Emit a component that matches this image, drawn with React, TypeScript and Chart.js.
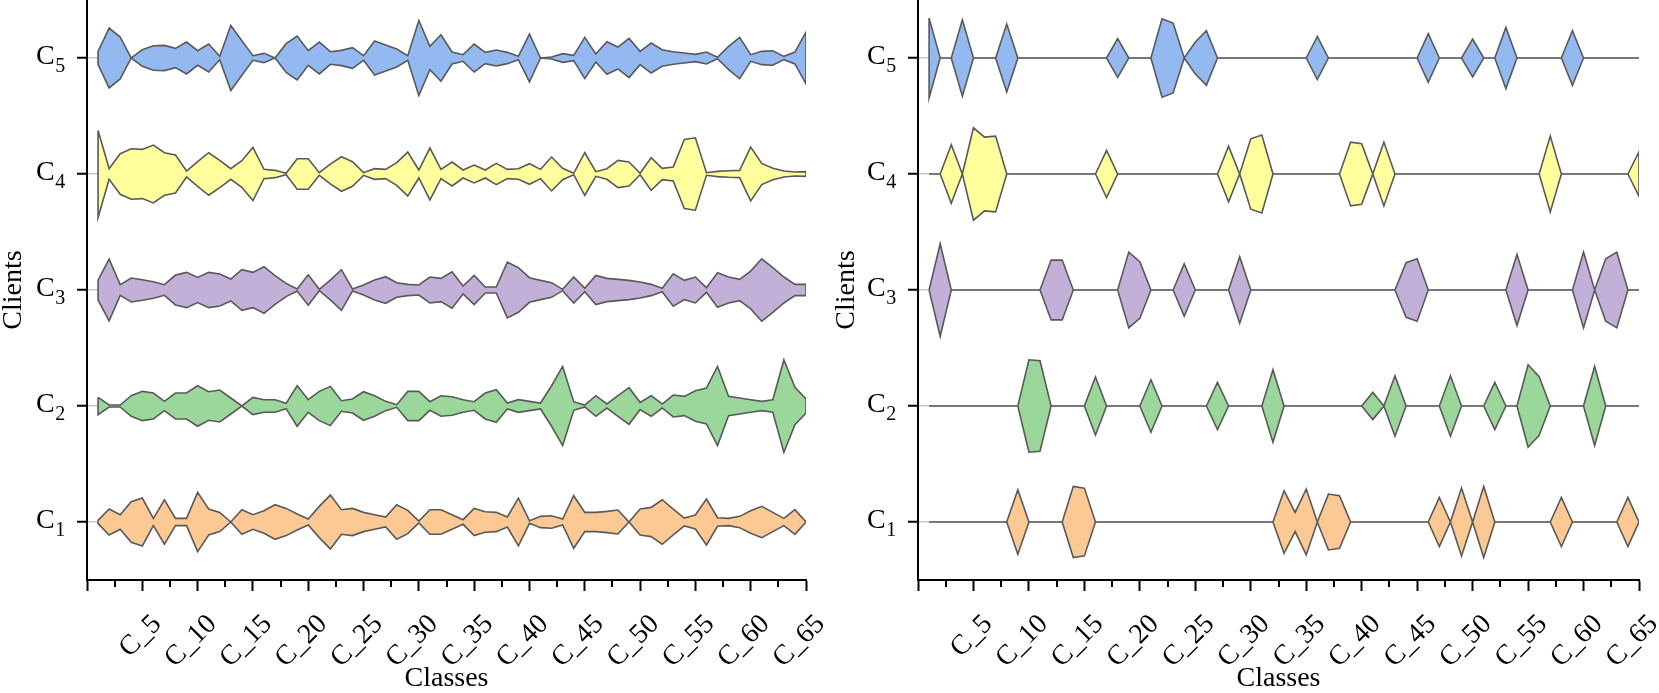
import React, { useEffect, useRef } from "react";
import { Chart, registerables } from "chart.js";

Chart.register(...registerables);

// ---------------- data ----------------
const CLASSES = [
  1, 2, 3, 4, 5, 6, 7, 8, 9, 10, 11, 12, 13, 14, 15, 16, 17, 18, 19, 20,
  21, 22, 23, 24, 25, 26, 27, 28, 29, 30, 31, 32, 33, 34, 35, 36, 37, 38, 39, 40,
  41, 42, 43, 44, 45, 46, 47, 48, 49, 50, 51, 52, 53, 54, 55, 56, 57, 58, 59, 60,
  61, 62, 63, 64, 65,
];

const CLIENT_POSITIONS = [1, 2, 3, 4, 5];
const CLIENT_SUBSCRIPTS = ["1", "2", "3", "4", "5"];

const X_TICK_VALUES = [
  0, 2.5, 5, 7.5, 10, 12.5, 15, 17.5, 20, 22.5, 25, 27.5, 30, 32.5, 35, 37.5,
  40, 42.5, 45, 47.5, 50, 52.5, 55, 57.5, 60, 62.5, 65,
];
const MAJOR_TICK_VALUES = [5, 10, 15, 20, 25, 30, 35, 40, 45, 50, 55, 60, 65];
const MAJOR_TICK_LABELS = [
  "C_5", "C_10", "C_15", "C_20", "C_25", "C_30", "C_35", "C_40", "C_45",
  "C_50", "C_55", "C_60", "C_65",
];

// per-class densities (arbitrary units), left panel
const LEFT_C1 = [5, 39, 22, 61, 72, 11, 67, 11, 11, 89, 39, 29, 0, 37, 22, 34, 52, 41, 24, 9, 47, 81, 37, 41, 29, 22, 15, 52, 35, 3, 37, 37, 22, 7, 41, 31, 29, 15, 72, 4, 17, 19, 9, 79, 29, 29, 32, 36, 0, 39, 44, 67, 39, 12, 21, 69, 13, 11, 17, 34, 47, 29, 11, 37, 0];
const LEFT_C2 = [26, 3, 3, 31, 44, 39, 14, 39, 39, 61, 43, 48, 24, 0, 26, 19, 19, 8, 61, 19, 44, 59, 16, 21, 43, 31, 14, 4, 44, 44, 13, 31, 28, 19, 13, 39, 49, 9, 19, 14, 9, 61, 119, 13, 3, 31, 6, 31, 55, 11, 31, 6, 33, 29, 46, 54, 119, 29, 24, 19, 14, 19, 139, 56, 21];
const LEFT_C3 = [30, 93, 16, 36, 31, 25, 16, 45, 53, 38, 53, 48, 33, 61, 53, 70, 43, 20, 3, 46, 2, 30, 61, 3, 15, 30, 40, 22, 17, 15, 39, 35, 55, 12, 44, 9, 9, 84, 67, 37, 29, 22, 2, 39, 5, 44, 35, 32, 29, 24, 17, 5, 49, 29, 39, 7, 52, 39, 32, 57, 94, 67, 39, 17, 17];
const LEFT_C4 = [131, 16, 61, 76, 74, 87, 64, 57, 9, 37, 64, 41, 16, 40, 80, 14, 11, 2, 46, 46, 4, 30, 52, 37, 4, 16, 14, 34, 66, 12, 78, 14, 36, 12, 27, 12, 32, 14, 16, 31, 14, 51, 17, 2, 64, 7, 16, 41, 36, 2, 49, 17, 21, 104, 109, 4, 8, 10, 11, 81, 32, 17, 9, 6, 7];
const LEFT_C5 = [20, 90, 63, 0, 25, 37, 38, 29, 48, 22, 42, 5, 98, 52, 7, 14, 0, 43, 66, 22, 48, 19, 23, 31, 7, 51, 39, 27, 7, 113, 35, 70, 18, 10, 42, 17, 24, 17, 5, 72, 0, 3, 13, 8, 62, 12, 49, 33, 59, 20, 45, 25, 19, 15, 11, 18, 2, 35, 62, 10, 20, 22, 5, 18, 78];

// per-class densities (arbitrary units), right panel
const RIGHT_C1 = [0, 0, 0, 0, 0, 0, 0, 0, 97, 0, 0, 0, 0, 107, 102, 0, 0, 0, 0, 0, 0, 0, 0, 0, 0, 0, 0, 0, 0, 0, 0, 0, 94, 29, 99, 0, 84, 79, 0, 0, 0, 0, 0, 0, 0, 0, 74, 0, 102, 0, 107, 0, 0, 0, 0, 0, 0, 74, 0, 0, 0, 0, 0, 74, 0];
const RIGHT_C2 = [0, 0, 0, 0, 0, 0, 0, 0, 0, 139, 136, 0, 0, 0, 0, 87, 0, 0, 0, 0, 79, 0, 0, 0, 0, 0, 71, 0, 0, 0, 0, 109, 0, 0, 0, 0, 0, 0, 0, 0, 41, 0, 91, 0, 0, 0, 0, 91, 0, 0, 0, 71, 0, 0, 124, 88, 0, 0, 0, 0, 119, 0, 0, 0, 0];
const RIGHT_C3 = [0, 139, 0, 0, 0, 0, 0, 0, 0, 0, 0, 90, 90, 0, 0, 0, 0, 0, 114, 85, 0, 0, 0, 79, 0, 0, 0, 0, 100, 0, 0, 0, 0, 0, 0, 0, 0, 0, 0, 0, 0, 0, 0, 82, 94, 0, 0, 0, 0, 0, 0, 0, 0, 107, 0, 0, 0, 0, 0, 114, 0, 94, 114, 0, 0];
const RIGHT_C4 = [0, 0, 88, 0, 139, 111, 114, 0, 0, 0, 0, 0, 0, 0, 0, 0, 71, 0, 0, 0, 0, 0, 0, 0, 0, 0, 0, 84, 0, 106, 117, 0, 0, 0, 0, 0, 0, 0, 96, 91, 0, 96, 0, 0, 0, 0, 0, 0, 0, 0, 0, 0, 0, 0, 0, 0, 114, 0, 0, 0, 0, 0, 0, 0, 67];
const RIGHT_C5 = [120, 0, 0, 115, 0, 0, 0, 102, 0, 0, 0, 0, 0, 0, 0, 0, 0, 58, 0, 0, 0, 118, 105, 0, 48, 82, 0, 0, 0, 0, 0, 0, 0, 0, 0, 65, 0, 0, 0, 0, 0, 0, 0, 0, 0, 73, 0, 0, 0, 57, 0, 0, 92, 0, 0, 0, 0, 0, 82, 0, 0, 0, 0, 0, 0];

const LEFT_SERIES = [LEFT_C1, LEFT_C2, LEFT_C3, LEFT_C4, LEFT_C5];
const RIGHT_SERIES = [RIGHT_C1, RIGHT_C2, RIGHT_C3, RIGHT_C4, RIGHT_C5];

// ---------------- styling ----------------
const ROW_COLORS = ["#FCC894", "#9BD69B", "#C2B0D8", "#FFFF9E", "#94B9F0"];
const OUTLINE = "#595959";
const DENSITY_SCALE = 1 / 349; // density -> half width in row units
const FONT = '"Liberation Serif", "Times New Roman", serif';
const H = 693;

function shapePoints(values: number[], row: number) {
  const upper = values.map((v, i) => ({ x: CLASSES[i], y: row + v * DENSITY_SCALE }));
  const lower = values.map((v, i) => ({ x: CLASSES[i], y: row - v * DENSITY_SCALE })).reverse();
  return [...upper, ...lower, upper[0]];
}

const decorations = {
  id: "decorations",
  afterDraw(chart: any) {
    const ctx = chart.ctx;
    const xs = chart.scales.x;
    const ys = chart.scales.y;
    const area = chart.chartArea;
    ctx.save();
    // minor ticks
    ctx.strokeStyle = "#000";
    ctx.lineWidth = 2;
    X_TICK_VALUES.forEach((v) => {
      if (MAJOR_TICK_VALUES.indexOf(v) >= 0 || v === 0) return;
      const px = Math.round(xs.getPixelForValue(v));
      ctx.beginPath();
      ctx.moveTo(px, area.bottom);
      ctx.lineTo(px, area.bottom + 7);
      ctx.stroke();
    });
    // rotated x tick labels
    ctx.fillStyle = "#000";
    ctx.font = `28px ${FONT}`;
    ctx.textAlign = "right";
    ctx.textBaseline = "alphabetic";
    MAJOR_TICK_VALUES.forEach((v, k) => {
      const px = xs.getPixelForValue(v);
      ctx.save();
      ctx.translate(px + 20, area.bottom + 45);
      ctx.rotate(-Math.PI / 4);
      ctx.fillText(MAJOR_TICK_LABELS[k], 0, 0);
      ctx.restore();
    });
    // y tick labels with subscripts
    ctx.textAlign = "left";
    CLIENT_POSITIONS.forEach((r, i) => {
      const py = ys.getPixelForValue(r);
      const x0 = area.left - 51;
      ctx.font = `28px ${FONT}`;
      ctx.fillText("C", x0, py + 6);
      const w = ctx.measureText("C").width;
      ctx.font = `20px ${FONT}`;
      ctx.fillText(CLIENT_SUBSCRIPTS[i], x0 + w + 0.5, py + 14);
    });
    ctx.restore();
  },
};

function makeConfig(series: number[][], padLeft: number, padRight: number, yWidth: number) {
  const datasets = series.map((vals, i) => ({
    data: shapePoints(vals, CLIENT_POSITIONS[i]),
    showLine: true,
    fill: "shape",
    backgroundColor: ROW_COLORS[i],
    borderColor: OUTLINE,
    borderWidth: 1.6,
    pointRadius: 0,
    pointHoverRadius: 0,
    tension: 0,
    borderJoinStyle: "miter",
  }));
  return {
    type: "scatter",
    data: { datasets },
    plugins: [decorations],
    options: {
      animation: false,
      responsive: false,
      events: [],
      layout: { padding: { left: padLeft, right: padRight, top: 0, bottom: 0 } },
      plugins: { legend: { display: false }, tooltip: { enabled: false } },
      scales: {
        x: {
          type: "linear",
          min: 0,
          max: 65,
          afterBuildTicks: (scale: any) => {
            scale.ticks = X_TICK_VALUES.map((v) => ({ value: v }));
          },
          afterFit: (scale: any) => {
            scale.height = H - 580;
            scale.paddingLeft = 0;
            scale.paddingRight = 0;
          },
          ticks: { display: false, autoSkip: false },
          grid: {
            drawOnChartArea: false,
            drawTicks: true,
            tickLength: 11,
            tickWidth: 2,
            tickColor: (c: any) =>
              c.tick && (c.tick.value === 0 || MAJOR_TICK_VALUES.indexOf(c.tick.value) >= 0)
                ? "#000"
                : "rgba(0,0,0,0)",
          },
          border: { display: true, color: "#000", width: 2 },
          title: {
            display: true,
            text: "Classes",
            color: "#000",
            font: { family: FONT, size: 28, lineHeight: 1 },
            padding: { top: 0, bottom: 0.5 },
          },
        },
        y: {
          type: "linear",
          min: 0.5,
          max: 5.5,
          afterBuildTicks: (scale: any) => {
            scale.ticks = CLIENT_POSITIONS.map((v) => ({ value: v }));
          },
          afterFit: (scale: any) => {
            scale.width = yWidth;
            scale.paddingTop = 0;
            scale.paddingBottom = 0;
          },
          ticks: { display: false },
          grid: {
            drawOnChartArea: true,
            color: "#c8c8c8",
            lineWidth: 1.5,
            drawTicks: true,
            tickLength: 10,
            tickWidth: 2,
            tickColor: "#000",
          },
          border: { display: true, color: "#000", width: 2 },
          title: {
            display: true,
            text: "Clients",
            color: "#000",
            font: { family: FONT, size: 28, lineHeight: 1 },
            padding: { top: 0, bottom: 0 },
          },
        },
      },
    },
  };
}

function Panel(props: { left: number; width: number; series: number[][]; padLeft: number; padRight: number; yWidth: number }) {
  const ref = useRef<HTMLCanvasElement | null>(null);
  useEffect(() => {
    if (!ref.current) return;
    const chart = new Chart(
      ref.current,
      makeConfig(props.series, props.padLeft, props.padRight, props.yWidth) as any
    );
    return () => chart.destroy();
  }, []);
  return (
    <canvas
      ref={ref}
      width={props.width}
      height={H}
      style={{ position: "absolute", left: props.left, top: 0, width: props.width, height: H, display: "block" }}
    />
  );
}

export default function App() {
  return (
    <div style={{ position: "absolute", left: 0, top: 0, width: 1659, height: H, overflow: "hidden", background: "#fff" }}>
      <Panel left={0} width={830} series={LEFT_SERIES} padLeft={0} padRight={24} yWidth={87} />
      <Panel left={830} width={829} series={RIGHT_SERIES} padLeft={3} padRight={20} yWidth={85} />
    </div>
  );
}
